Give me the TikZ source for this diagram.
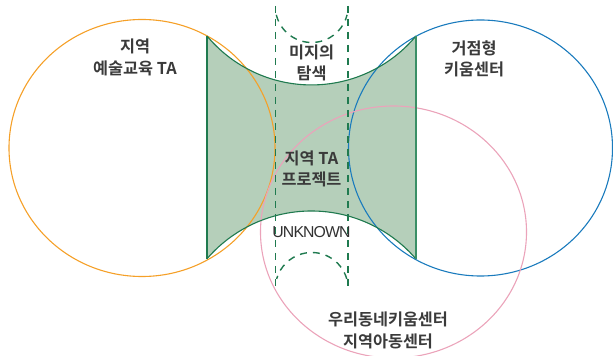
\documentclass[tikz,border=0pt]{standalone}
\usepackage{fontspec}
\newfontfamily\kr{Noto Sans CJK KR}[UprightFont=*, BoldFont=* Bold]
\newfontfamily\lat{Liberation Sans}
\definecolor{txt}{HTML}{3A3A3A}
\definecolor{gfill}{HTML}{B5CFBA}
\definecolor{gline}{HTML}{1F7A4F}
\definecolor{gright}{HTML}{3A8F66}
\definecolor{corange}{HTML}{F5A028}
\definecolor{cblue}{HTML}{1A7BBD}
\definecolor{cpink}{HTML}{EBA3BA}
\tikzset{
  lbl/.style={text=txt, align=center, font=\kr\bfseries\fontsize{16.3}{21.5}\selectfont, inner sep=0pt},
  ring/.style={line width=1.1pt},
  dashline/.style={draw=gline, line width=1.4pt, dash pattern=on 7pt off 6pt},
}
\begin{document}
\begin{tikzpicture}[x=1pt,y=1pt]
\useasboundingbox (0,0) rectangle (613,356);
% green region
\coordinate (gtl) at (207,320);
\coordinate (gtr) at (416,320);
\coordinate (gbr) at (416,97);
\coordinate (gbl) at (207,97);
\fill[gfill] (gtl) arc[start angle=219.8, end angle=320.2, radius=136] -- (gbr) arc[start angle=40.7, end angle=139.3, radius=138] -- cycle;
% circles
\draw[ring, corange] (142,208) ellipse[x radius=133, y radius=128.5];
\draw[ring, cblue] (480.5,208) ellipse[x radius=132, y radius=128];
\draw[ring, cpink] (393.5,124) ellipse[x radius=133, y radius=126];
% green borders
\draw[gline, line width=1.1pt] (gtl) arc[start angle=219.8, end angle=320.2, radius=136];
\draw[gline, line width=1.1pt] (gbr) arc[start angle=40.7, end angle=139.3, radius=138];
\draw[gline, line width=1.1pt] (gtl) -- (gbl);
\draw[gright, line width=2pt] (gtr) -- (gbr);
% dashed
\coordinate (dlt) at (275.5,350);
\coordinate (dlb) at (275.5,67);
\coordinate (drt) at (348,350);
\coordinate (drb) at (348,67);
\draw[dashline] (dlt) -- (dlb);
\draw[dashline] (drt) -- (drb);
\draw[dashline] (311.7,350) ++(194:36.5) arc[start angle=194, end angle=346, radius=36.5];
\draw[dashline] (311.7,67) ++(16:36.5) arc[start angle=16, end angle=164, radius=36.5];
% labels
\node[lbl] (a) at (135,298.5) {지역\\예술교육 TA};
\node[lbl] (b) at (474,297) {거점형\\키움센터};
\node[lbl] (c) at (311.5,293) {미지의\\탐색};
\node[lbl] (d) at (311.5,187) {지역 TA\\프로젝트};
\node[text=txt!85!black, inner sep=0pt, font=\lat\fontsize{15.8}{17}\selectfont\addfontfeatures{LetterSpace=-5.5}] (e) at (311.5,124) {UNKNOWN};
\node[lbl] (f) at (388,25.5) {우리동네키움센터\\지역아동센터};
\end{tikzpicture}
\end{document}
